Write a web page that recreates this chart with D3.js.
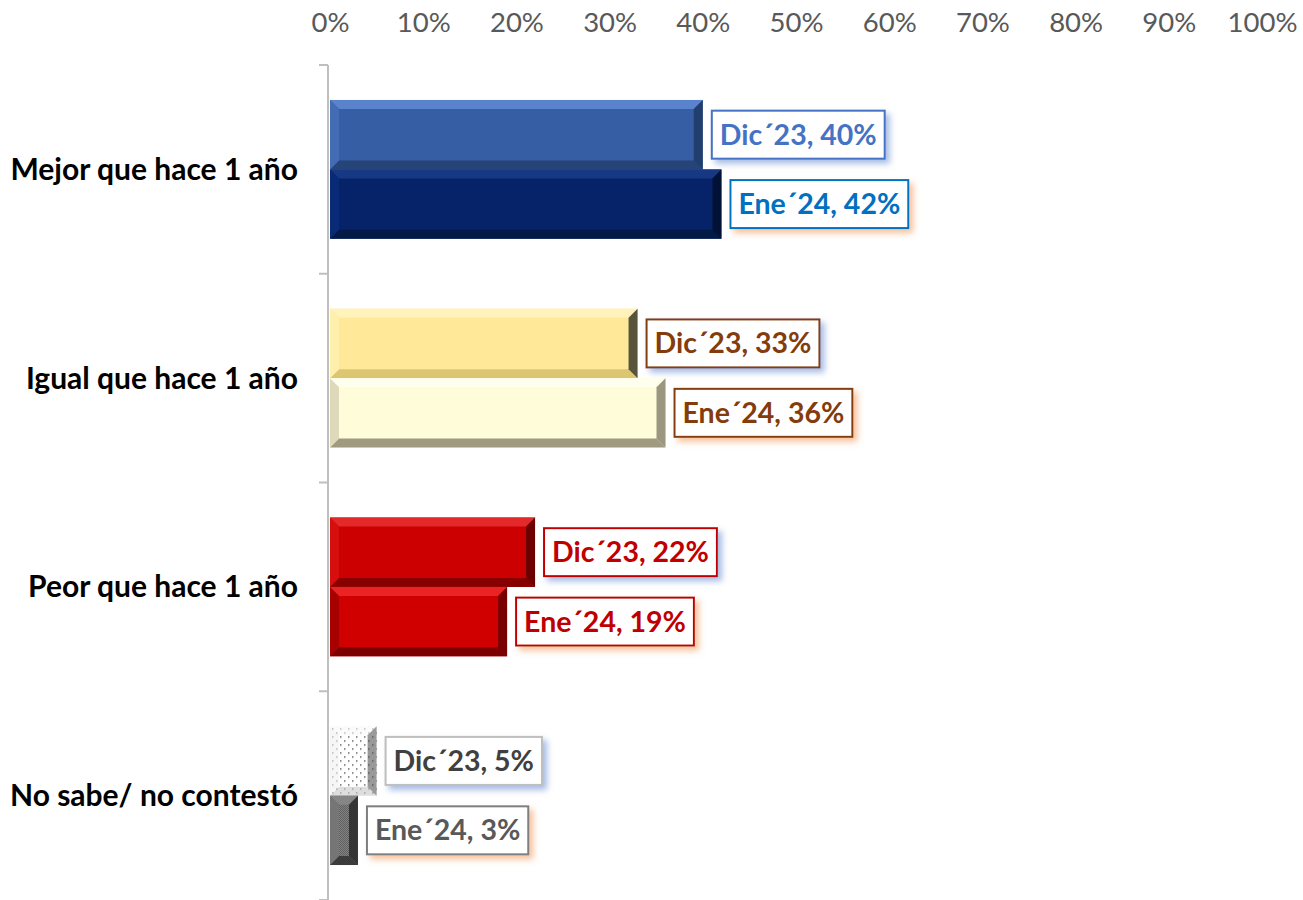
<!DOCTYPE html>
<html>
<head>
<meta charset="utf-8">
<script src="https://cdn.jsdelivr.net/npm/d3@7"></script>
<style>
  body { margin: 0; background: #fff; }
  svg { display: block; font-family: Lato, "Open Sans", sans-serif; }
</style>
</head>
<body>
<div id="chart"></div>
<script>
const WIDTH = 1303;
const HEIGHT = 900;

const categories = ["Mejor que hace 1 año", "Igual que hace 1 año", "Peor que hace 1 año", "No sabe/ no contestó"];
const seriesNames = ["Dic´23", "Ene´24"];
const dic23 = [40, 33, 22, 5];
const ene24 = [42, 36, 19, 3];
const tickValues = [0, 10, 20, 30, 40, 50, 60, 70, 80, 90, 100];

// fills per category x series: [main, top, bottom, left, right]
const barStyles = [
    [["#355ea5", "#5f8ad4", "#233f70", "#466fb6", "#1f3864"],
     ["#06236a", "#1b3c8a", "#04173f", "#0b2b78", "#020f2e"]],
    [["#ffe999", "#fff3bf", "#d6bf6a", "#fff0b0", "#3a3a2a"],
     ["#fffcda", "#fffff0", "#8f8870", "#d8d2b4", "#8a8470"]],
    [["#cc0000", "#e63030", "#7a0000", "#d81010", "#5a0000"],
     ["#d00000", "#ee2a2a", "#6e0000", "#a00000", "#6a0000"]],
    [["url(#dots)", "#f8f8f8", "#c8c8c8", "#f0f0f0", "#555"],
     ["url(#checker)", "#8a8a8a", "#333", "#777", "#2a2a2a"]]
];
const labelColors = [
    [["#4472c4", "#4472c4"], ["#0070c0", "#0070c0"]],
    [["#843c0c", "#843c0c"], ["#843c0c", "#843c0c"]],
    [["#c00000", "#c00000"], ["#c00000", "#c00000"]],
    [["#404040", "#bfbfbf"], ["#595959", "#7f7f7f"]]
];

const rows = categories.map((c, i) => ({
    category: c,
    values: [dic23[i], ene24[i]]
}));

const svg = d3.select("#chart").append("svg")
    .attr("width", WIDTH)
    .attr("height", HEIGHT);

const defs = svg.append("defs");
const dots = defs.append("pattern").attr("id", "dots")
    .attr("patternUnits", "userSpaceOnUse").attr("width", 8).attr("height", 8);
dots.append("rect").attr("width", 8).attr("height", 8).attr("fill", "#fff");
dots.append("rect").attr("x", 2).attr("y", 2).attr("width", 1.5).attr("height", 1.5).attr("fill", "#666");
dots.append("rect").attr("x", 6).attr("y", 6).attr("width", 1.5).attr("height", 1.5).attr("fill", "#666");
const checker = defs.append("pattern").attr("id", "checker")
    .attr("patternUnits", "userSpaceOnUse").attr("width", 2).attr("height", 2);
checker.append("rect").attr("width", 2).attr("height", 2).attr("fill", "#b8b8b8");
checker.append("rect").attr("width", 1).attr("height", 1).attr("fill", "#2a2a2a");
checker.append("rect").attr("x", 1).attr("y", 1).attr("width", 1).attr("height", 1).attr("fill", "#2a2a2a");

[["shadowDic", "#8eaadb"], ["shadowEne", "#f4b183"]].forEach(([id, col]) => {
    defs.append("filter").attr("id", id)
        .attr("x", "-10%").attr("y", "-20%").attr("width", "130%").attr("height", "160%")
        .append("feDropShadow")
        .attr("dx", 4).attr("dy", 4).attr("stdDeviation", 3)
        .attr("flood-color", col).attr("flood-opacity", 0.8);
});

const x = d3.scaleLinear().domain([0, 100]).range([330, 1262]);
const y = d3.scaleBand().domain(categories).range([65, 900])
    .paddingInner(0.335).paddingOuter(0.1675);
const ySub = d3.scaleBand().domain(seriesNames).range([0, y.bandwidth()]);

// top axis labels only
const xAxis = d3.axisTop(x).tickValues(tickValues).tickSize(0).tickPadding(0)
    .tickFormat(d => d + "%");
svg.append("g")
    .attr("transform", "translate(0,32)")
    .call(xAxis)
    .call(g => g.select(".domain").remove())
    .call(g => g.selectAll("text")
        .attr("font-family", "Lato, sans-serif")
        .attr("font-size", 27.5)
        .attr("fill", "#595959"));

// vertical category axis with ticks at band edges
const step = y.step();
const edges = categories.map(c => y(c) - y.paddingOuter() * step);
edges.push(edges[edges.length - 1] + step);
const axisG = svg.append("g").attr("stroke", "#bfbfbf").attr("stroke-width", 2);
axisG.append("line").attr("x1", 328).attr("x2", 328).attr("y1", edges[0]).attr("y2", edges[edges.length - 1]);
axisG.selectAll("line.tick").data(edges).join("line")
    .attr("class", "tick")
    .attr("x1", 319).attr("x2", 328)
    .attr("y1", d => d).attr("y2", d => d);

// category labels
svg.append("g").selectAll("text").data(categories).join("text")
    .attr("x", 298)
    .attr("y", d => y(d) + y.bandwidth() / 2)
    .attr("dy", "0.35em")
    .attr("text-anchor", "end")
    .attr("font-weight", "bold")
    .attr("font-size", 30)
    .attr("fill", "#000")
    .text(d => d);

// bars with bevel
const BEVEL = 9;
const catG = svg.append("g").selectAll("g").data(rows).join("g")
    .attr("transform", d => `translate(0,${y(d.category)})`);

rows.forEach((row, ci) => {
    const g = d3.select(catG.nodes()[ci]);
    row.values.forEach((v, si) => {
        const x0 = x(0);
        const w = x(v) - x0;
        const h = ySub.bandwidth();
        const b = Math.min(BEVEL, w / 2);
        const st = barStyles[ci][si];
        const bar = g.append("g").attr("transform", `translate(${x0},${ySub(seriesNames[si])})`);
        bar.append("rect").attr("width", w).attr("height", h).attr("fill", st[0]);
        const polys = [
            [[0, 0], [w, 0], [w - b, b], [b, b], st[1]],
            [[0, h], [w, h], [w - b, h - b], [b, h - b], st[2]],
            [[0, 0], [b, b], [b, h - b], [0, h], st[3]],
            [[w, 0], [w - b, b], [w - b, h - b], [w, h], st[4]]
        ];
        bar.selectAll("polygon").data(polys).join("polygon")
            .attr("points", p => p.slice(0, 4).map(q => q.join(",")).join(" "))
            .attr("fill", p => p[4])
            .attr("fill-opacity", ci === 3 && si === 0 ? 0.6 : 0.85);

        // data label box
        const [txtCol, boxCol] = labelColors[ci][si];
        const lg = bar.append("g").attr("transform", `translate(${w + 9},${h / 2})`);
        const box = lg.append("rect")
            .attr("fill", "#fff")
            .attr("stroke", boxCol)
            .attr("stroke-width", 2)
            .attr("filter", si === 0 ? "url(#shadowDic)" : "url(#shadowEne)");
        const t = lg.append("text")
            .attr("y", 0)
            .attr("dy", "0.35em")
            .attr("font-weight", "bold")
            .attr("font-size", 28.5)
            .attr("fill", txtCol)
            .text(`${seriesNames[si]}, ${v}%`);
        const tw = t.node().getComputedTextLength();
        t.attr("x", 8);
        box.attr("x", 0).attr("y", -24).attr("width", tw + 16).attr("height", 48);
    });
});
</script>
</body>
</html>
